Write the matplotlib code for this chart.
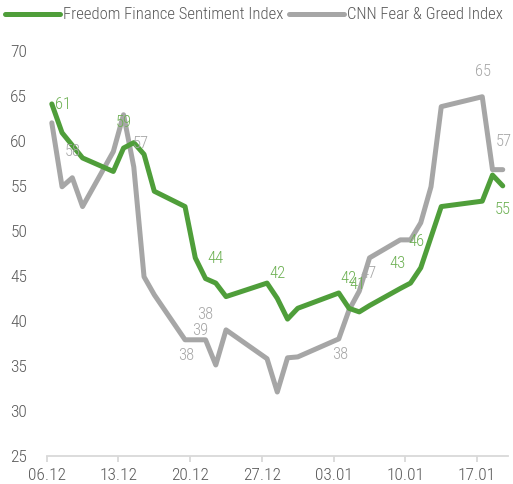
import numpy as np
import pandas as pd
import matplotlib
matplotlib.use("Agg")
import matplotlib.pyplot as plt
import matplotlib.dates as mdates
from matplotlib import font_manager

# ---- data ----
start_date = "2021-12-06"
day_offsets = [0, 1, 2, 3, 6, 7, 8, 9, 10, 13, 14, 15, 16, 17, 21, 22, 23, 24,
               28, 29, 30, 31, 34, 35, 36, 37, 38, 42, 43, 44]
freedom = [64.1, 60.9, 59.5, 58.1, 56.6, 59.2, 59.8, 58.5, 54.4, 52.7, 47.0, 44.7,
           44.2, 42.7, 44.2, 42.5, 40.2, 41.4, 43.1, 41.4, 41.0, 41.7, 43.6, 44.2,
           45.9, 49.3, 52.7, 53.3, 56.2, 55.0]
cnn = [62.0, 54.9, 55.9, 52.7, 58.8, 62.9, 57.1, 44.9, 42.9, 37.9, 37.9, 37.9,
       35.1, 39.0, 35.8, 32.1, 35.9, 36.0, 38.0, 41.2, 43.3, 47.0, 49.0, 49.0,
       50.9, 54.9, 63.8, 64.9, 56.8, 56.8]
series_names = ["Freedom Finance Sentiment Index", "CNN Fear & Greed Index"]
# data labels: (point index, text)
freedom_labels = [(0, "61"), (5, "59"), (12, "44"), (15, "42"), (19, "42"),
                  (20, "41"), (22, "43"), (24, "46"), (29, "55")]
cnn_labels = [(2, "58"), (6, "57"), (11, "38"), (10, "39"), (9, "38"),
              (18, "38"), (21, "47"), (27, "65"), (29, "57")]
y_ticks = [25, 30, 35, 40, 45, 50, 55, 60, 65, 70]

# label offsets in pixels (style only)
freedom_off = [(11, -1), (0, 26), (0, 25), (0, 25), (-1, 30), (-2, 27), (-3, 25), (-4, 26), (0, -24)]
cnn_off = [(0, 26), (7, 23), (0, 25), (5, 9), (1, -16), (1, -16), (-1, -16), (1, 25), (1, 28)]

# ---- font ----
names = {f.name for f in font_manager.fontManager.ttflist}
family = "Roboto"
weight = "light"
for cand in ["Roboto Condensed", "Liberation Sans Narrow", "Open Sans Condensed"]:
    if cand in names:
        family = cand
        break
plt.rcParams["font.family"] = [family, "DejaVu Sans"]
plt.rcParams["font.weight"] = weight

GREEN = "#4f9e3a"
GREEN_TXT = "#6cb052"
GRAY = "#a6a6a6"
TICK_TXT = "#595959"

base = pd.Timestamp(start_date)
dates = [base + pd.Timedelta(days=d) + pd.Timedelta(hours=12) for d in day_offsets]

fig = plt.figure(figsize=(5.13, 4.84), dpi=100)
ax = fig.add_axes([0.091, 0.058, 0.899, 0.837])

l1, = ax.plot(dates, freedom, color=GREEN, lw=3.6, solid_joinstyle="round",
              solid_capstyle="round", label=series_names[0], zorder=3)
l2, = ax.plot(dates, cnn, color=GRAY, lw=3.6, solid_joinstyle="round",
              solid_capstyle="round", label=series_names[1], zorder=2)

for (i, t), (dx, dy) in zip(freedom_labels, freedom_off):
    ax.annotate(t, (dates[i], freedom[i]), xytext=(dx, dy), textcoords="offset pixels",
                ha="center", va="center", color=GREEN_TXT, fontsize=12, zorder=5)
for (i, t), (dx, dy) in zip(cnn_labels, cnn_off):
    ax.annotate(t, (dates[i], cnn[i]), xytext=(dx, dy), textcoords="offset pixels",
                ha="center", va="center", color=GRAY, fontsize=12, zorder=5)

ax.set_ylim(25, 70)
ax.set_yticks(y_ticks)
ax.set_xlim(base, base + pd.Timedelta(days=45))
ax.set_xticks([base + pd.Timedelta(days=7 * k) for k in range(7)])
ax.xaxis.set_major_formatter(mdates.DateFormatter("%d.%m"))

for s in ["top", "right", "left"]:
    ax.spines[s].set_visible(False)
ax.spines["bottom"].set_color("#d9d9d9")
ax.spines["bottom"].set_linewidth(1.3)
ax.tick_params(axis="x", colors="#d9d9d9", length=4, width=1.3, pad=5,
               labelcolor=TICK_TXT, labelsize=12.5)
ax.tick_params(axis="y", length=0, pad=14, labelcolor=TICK_TXT, labelsize=12.5)

fig.legend(handles=[l1, l2], loc="upper left", bbox_to_anchor=(0.0, 0.995), ncol=2,
           frameon=False, fontsize=12, handlelength=3.3, handletextpad=0.2,
           columnspacing=0.3, borderaxespad=0.1, borderpad=0.2, labelcolor=TICK_TXT)

fig.savefig("out.png", dpi=100)
